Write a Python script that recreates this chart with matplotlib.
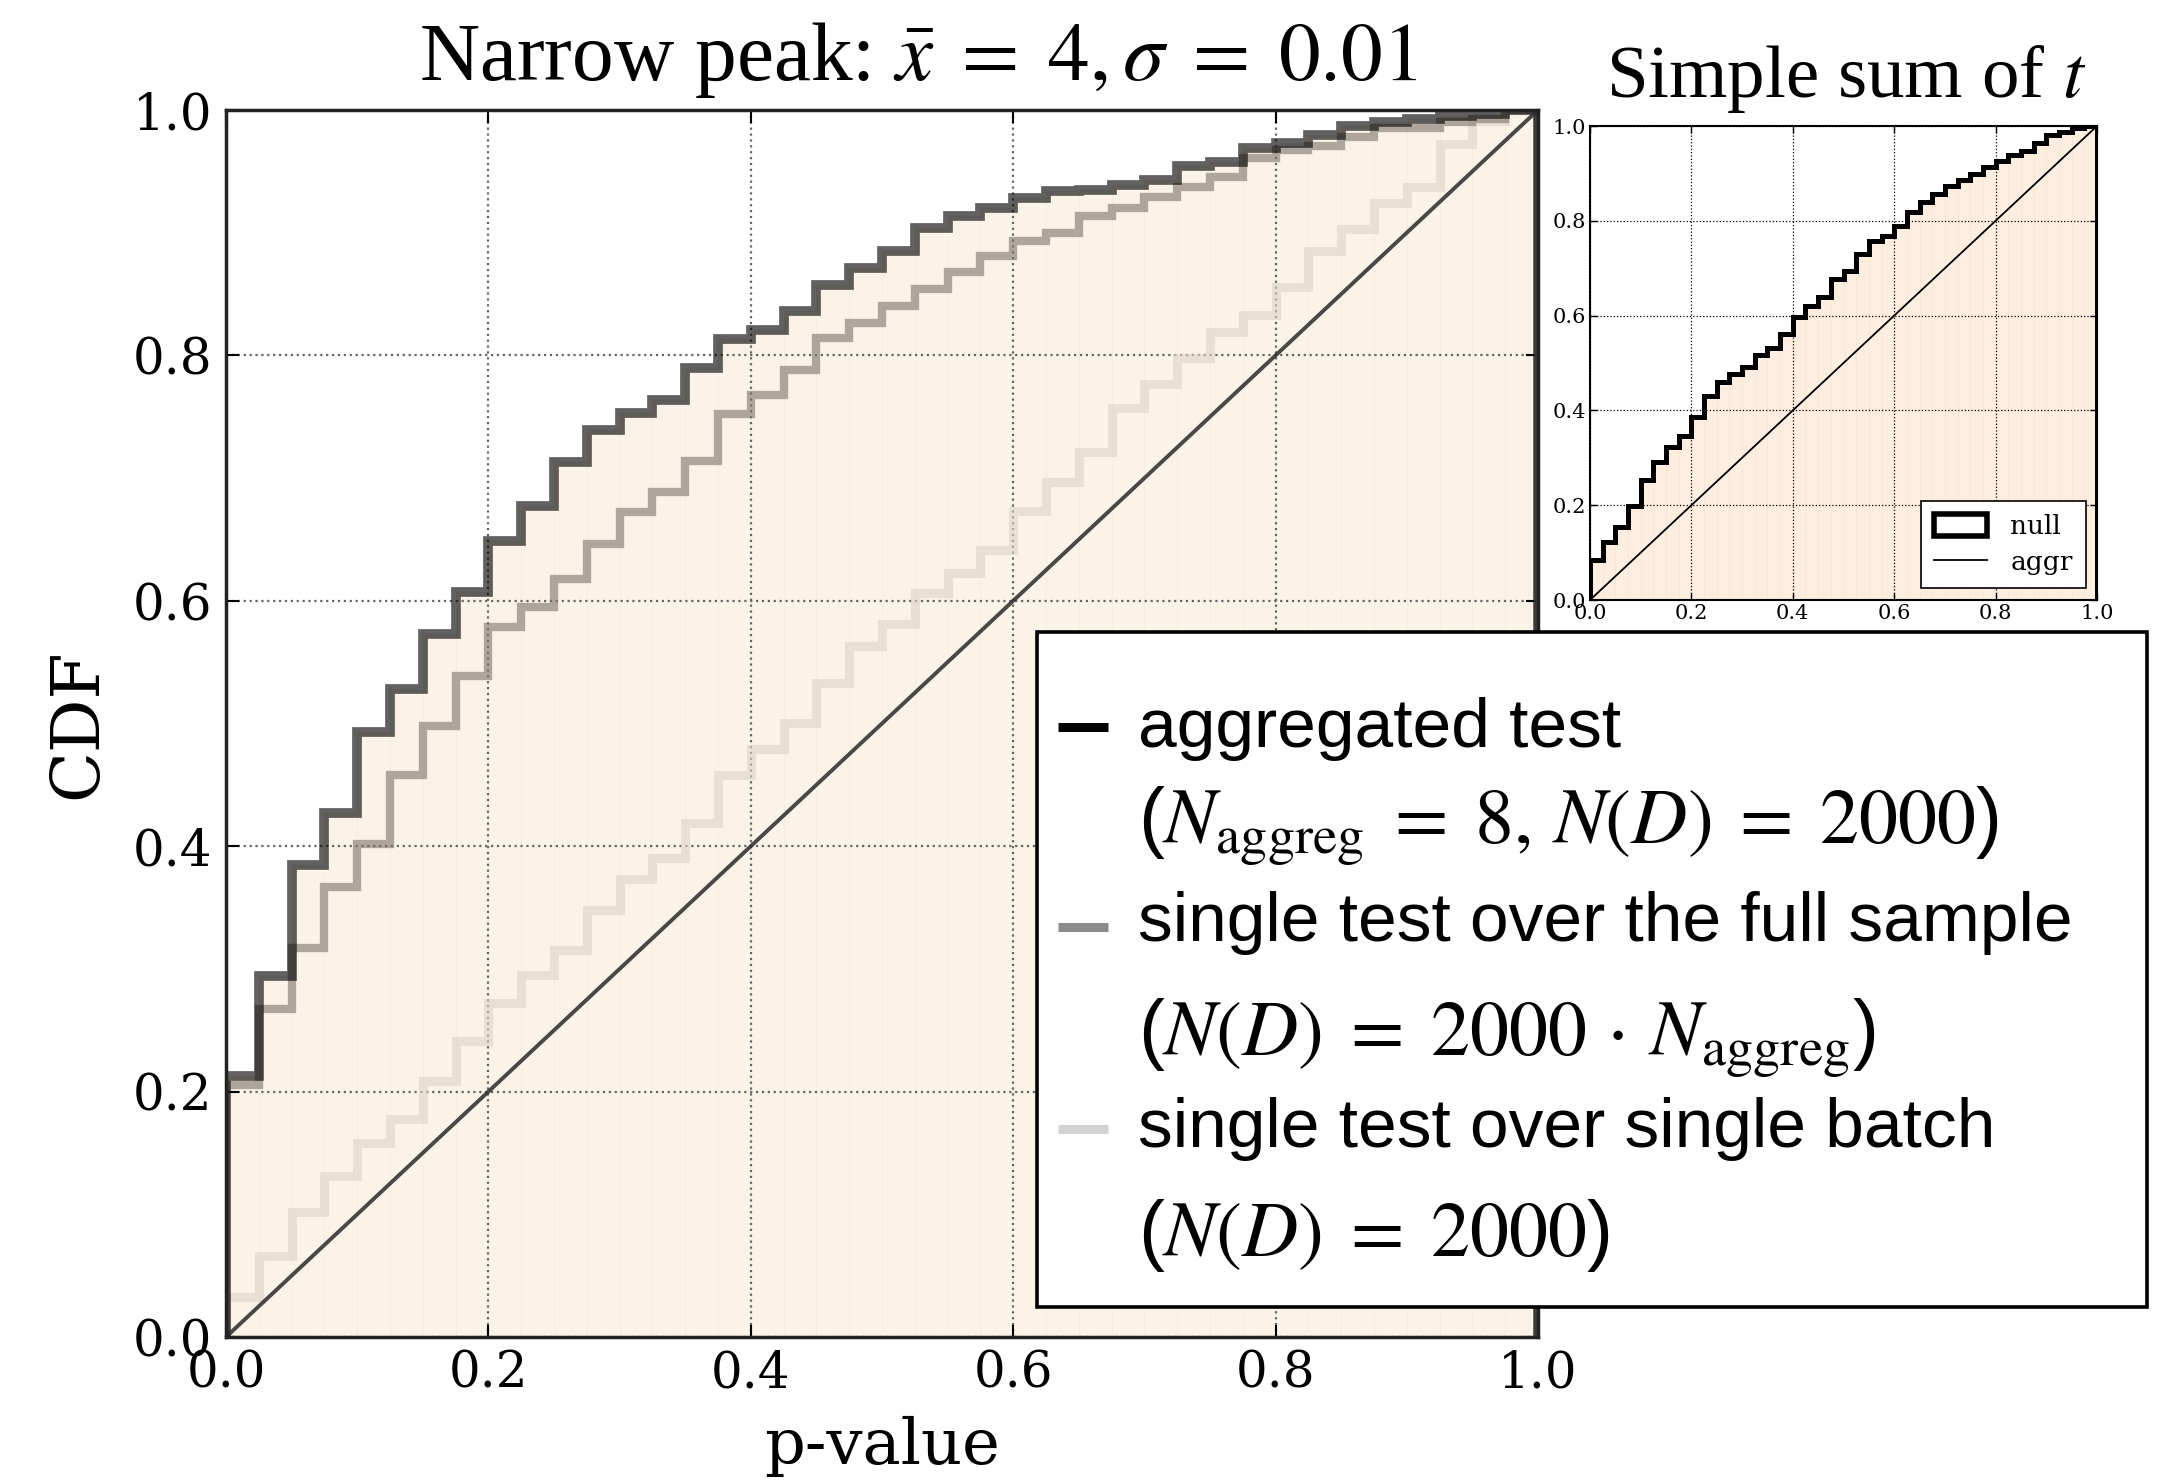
import numpy as np
import matplotlib
matplotlib.use("Agg")
import matplotlib.pyplot as plt
from matplotlib.lines import Line2D
from matplotlib.patches import Rectangle

# ---------------- data (cumulative fractions per p-value bin, 40 bins) ----------------
aggregated = [0.213, 0.294, 0.385, 0.427, 0.493, 0.528, 0.573, 0.607, 0.649, 0.677,
              0.713, 0.739, 0.753, 0.764, 0.790, 0.813, 0.821, 0.836, 0.857, 0.871,
              0.885, 0.904, 0.914, 0.920, 0.928, 0.934, 0.935, 0.939, 0.943, 0.954,
              0.958, 0.969, 0.973, 0.980, 0.987, 0.990, 0.993, 0.995, 0.997, 1.000]
full_sample = [0.205, 0.267, 0.317, 0.367, 0.402, 0.458, 0.498, 0.539, 0.579, 0.595,
               0.618, 0.646, 0.672, 0.689, 0.714, 0.752, 0.768, 0.788, 0.814, 0.826,
               0.840, 0.854, 0.868, 0.881, 0.893, 0.900, 0.914, 0.920, 0.929, 0.937,
               0.945, 0.961, 0.967, 0.971, 0.978, 0.985, 0.985, 0.990, 0.993, 1.000]
single_batch = [0.033, 0.066, 0.102, 0.131, 0.158, 0.178, 0.209, 0.241, 0.272, 0.295,
                0.315, 0.348, 0.373, 0.390, 0.419, 0.458, 0.479, 0.500, 0.533, 0.563,
                0.581, 0.606, 0.623, 0.641, 0.673, 0.697, 0.721, 0.757, 0.777, 0.798,
                0.819, 0.833, 0.856, 0.885, 0.903, 0.924, 0.937, 0.972, 0.991, 1.000]
inset_null = [0.085, 0.123, 0.154, 0.199, 0.253, 0.292, 0.322, 0.346, 0.386, 0.431,
              0.459, 0.477, 0.492, 0.517, 0.532, 0.561, 0.597, 0.620, 0.639, 0.677,
              0.695, 0.729, 0.758, 0.768, 0.789, 0.818, 0.840, 0.856, 0.873, 0.887,
              0.898, 0.913, 0.927, 0.938, 0.947, 0.964, 0.982, 0.987, 0.996, 1.000]
diagonal = [0.0, 1.0]

tick_values = [0.0, 0.2, 0.4, 0.6, 0.8, 1.0]
tick_labels = ["0.0", "0.2", "0.4", "0.6", "0.8", "1.0"]

main_title = r"Narrow peak: $\bar{x}\;=\;4,\sigma\;=\;0.01$"
inset_title = r"Simple sum of $t$"
x_label = "p-value"
y_label = "CDF"
inset_labels = ["null", "aggr"]
legend_text = ["aggregated test",
               "single test over the full sample",
               "single test over single batch"]
legend_math = [r"($N_{\mathrm{aggreg}}\;=\;8,\,N(D)\;=\;2000$)",
               r"($N(D)\;=\;2000\,\cdot\,N_{\mathrm{aggreg}}$)",
               r"($N(D)\;=\;2000$)"]
legend_colors = ["black", "#8a8a8a", "#d3d3d3"]

bin_edges = np.linspace(0.0, 1.0, len(aggregated) + 1)
bin_widths = np.diff(bin_edges)

# ---------------- style ----------------
plt.rcParams["font.family"] = ["DejaVu Serif"]
plt.rcParams["mathtext.fontset"] = "stix"

W, H = 2172, 1481
fig = plt.figure(figsize=(W / 100, H / 100), dpi=100)

# ---------------- main axes ----------------
L, R, T, B = 226, 1538, 110, 1337
ax = fig.add_axes([L / W, 1 - B / H, (R - L) / W, (B - T) / H])
ax.bar(bin_edges[:-1], aggregated, width=bin_widths, align="edge",
       color="#fbf3e7", edgecolor="#f6ede1", linewidth=0.6, zorder=0.5)
ax.grid(True, linestyle=":", color="0.4", linewidth=1.6)
ax.stairs(single_batch, bin_edges, baseline=0, color="#dcd4c6", alpha=0.6,
          linewidth=6.5, zorder=2)
ax.stairs(full_sample, bin_edges, baseline=0, color="#7c746a", alpha=0.6,
          linewidth=6.0, zorder=2.1)
ax.stairs(aggregated, bin_edges, baseline=0, color="black", alpha=0.62,
          linewidth=7.0, zorder=2.2)
ax.plot(diagonal, diagonal, color="#2a2a2a", alpha=0.85, linewidth=2.8, zorder=2.3)

ax.set_xlim(0, 1)
ax.set_ylim(0, 1)
ax.set_xticks(tick_values)
ax.set_xticklabels(tick_labels)
ax.set_yticks(tick_values)
ax.set_yticklabels(tick_labels)
ax.tick_params(direction="in", length=9, width=1.5, top=True, right=True,
               labelsize=36, colors="black")
ax.tick_params(axis="x", pad=9)
ax.tick_params(axis="y", pad=10)
for s in ax.spines.values():
    s.set_linewidth(2.5)
    s.set_color("#222222")
ax.set_xlabel(x_label, fontsize=46)
ax.set_ylabel(y_label, fontsize=48)
ax.xaxis.set_label_coords(0.5, (B - 1416) / (B - T))
ax.yaxis.set_label_coords((110 - L) / (R - L), 0.5)

fig.text(918 / W, 1 - 80 / H, main_title, ha="center", va="baseline",
         fontsize=60, family="Liberation Serif")

# ---------------- inset ----------------
iL, iR, iT, iB = 1590, 2097, 126, 600
ax2 = fig.add_axes([iL / W, 1 - iB / H, (iR - iL) / W, (iB - iT) / H])
ax2.bar(bin_edges[:-1], inset_null, width=bin_widths, align="edge",
        color="#fdeee0", edgecolor="#f9e6d3", linewidth=0.6, zorder=0.5)
ax2.grid(True, linestyle=":", color="black", linewidth=0.9)
ax2.stairs(inset_null, bin_edges, baseline=0, color="black", linewidth=3.6, zorder=2)
ax2.plot(diagonal, diagonal, color="black", linewidth=1.3, zorder=2.1)
ax2.set_xlim(0, 1)
ax2.set_ylim(0, 1)
ax2.set_xticks(tick_values)
ax2.set_xticklabels(tick_labels)
ax2.set_yticks(tick_values)
ax2.set_yticklabels(tick_labels)
ax2.tick_params(direction="in", length=5, width=1, top=True, right=True,
                labelsize=15, pad=3)
for s in ax2.spines.values():
    s.set_linewidth(1.5)
h_null = Rectangle((0, 0), 1, 1, facecolor="white", edgecolor="black", linewidth=4)
h_aggr = Line2D([], [], color="black", linewidth=1.3)
leg2 = ax2.legend([h_null, h_aggr], inset_labels, loc="lower right",
                  bbox_to_anchor=(0.978, 0.025), borderaxespad=0, fontsize=19,
                  fancybox=False, framealpha=1, edgecolor="black",
                  handlelength=2.0, handleheight=0.9, borderpad=0.5,
                  labelspacing=0.4, handletextpad=0.9)
leg2.get_frame().set_linewidth(1.2)

fig.text(1846 / W, 1 - 97 / H, inset_title, ha="center", va="baseline",
         fontsize=54, family="Liberation Serif")

# ---------------- big legend (drawn in figure coordinates) ----------------
bx0, bx1, by0, by1 = 1037, 2147, 632, 1307
fig.add_artist(Rectangle((bx0 / W, 1 - by1 / H), (bx1 - bx0) / W, (by1 - by0) / H,
                         transform=fig.transFigure, facecolor="white",
                         edgecolor="black", linewidth=2.6, zorder=10))
text_baselines = [747, 941, 1147]
math_baselines = [843, 1055, 1256]
handle_y = [727, 927, 1129]
for lab, mlab, col, tb, mb, hy in zip(legend_text, legend_math, legend_colors,
                                      text_baselines, math_baselines, handle_y):
    fig.add_artist(Line2D([1058 / W, 1108 / W], [1 - hy / H, 1 - hy / H],
                          transform=fig.transFigure, color=col, linewidth=6.5,
                          solid_capstyle="butt", zorder=11))
    fig.text(1138 / W, 1 - tb / H, lab, ha="left", va="baseline", fontsize=50,
             family="Liberation Sans", zorder=11)
    fig.text(1138 / W, 1 - mb / H, mlab, ha="left", va="baseline", fontsize=56,
             family="Liberation Sans", zorder=11)

fig.savefig("out.png", dpi=100)
